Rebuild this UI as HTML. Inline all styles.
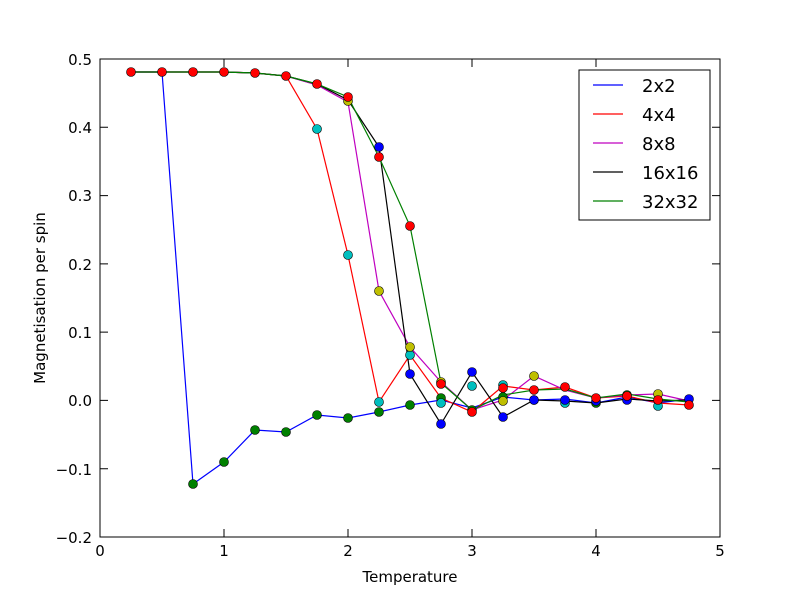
<!DOCTYPE html>
<html><head><meta charset="utf-8"><style>
html,body{margin:0;padding:0;background:#fff}
svg{display:block;font-family:"DejaVu Sans","Liberation Sans",sans-serif}
</style></head><body>
<svg width="800" height="597" viewBox="0 0 800 597">
<rect width="800" height="597" fill="#fff"/>
<g fill="none" stroke-width="1.2">
<polyline stroke="#00f" points="131,72 162,72 193,484 224,462 255,430 286,432 317,415 348,418 379,412 410,405 441,400 472,408 503,397 534,400 565,399 596,403 627,397 658,403 689,399"/>
<polyline stroke="#f00" points="131,72 162,72 193,72 224,72 255,73 286,76 317,129 348,255 379,402 410,355 441,398 472,412 503,386 534,390 565,387 596,398 627,396 658,403 689,405"/>
<polyline stroke="#bf00bf" points="131,72 162,72 193,72 224,72 255,73 286,76 317,85 348,102 379,291 410,347 441,382 472,410 503,400 534,376 565,390 596,398 627,395 658,394 689,401"/>
<polyline stroke="#000" points="131,72 162,72 193,72 224,72 255,73 286,76 317,84 348,100 379,147 410,374 441,424 472,372 503,417 534,400 565,401 596,403 627,399 658,401 689,400"/>
<polyline stroke="#008000" points="131,72 162,72 193,72 224,72 255,73 286,76 317,84 348,97 379,157 410,226 441,383 472,410 503,395 534,390 565,389 596,398 627,394 658,399 689,402"/>
</g>
<g stroke="#000" stroke-width="0.6">
<g fill="#008000">
<circle cx="193" cy="484" r="4.5"/><circle cx="224" cy="462" r="4.5"/><circle cx="255" cy="430" r="4.5"/><circle cx="286" cy="432" r="4.5"/><circle cx="317" cy="415" r="4.5"/><circle cx="348" cy="418" r="4.5"/><circle cx="379" cy="412" r="4.5"/><circle cx="410" cy="405" r="4.5"/><circle cx="441" cy="398" r="4.5"/><circle cx="503" cy="397" r="4.5"/><circle cx="534" cy="400" r="4.5"/><circle cx="596" cy="403" r="4.5"/><circle cx="627" cy="395" r="4.5"/><circle cx="472" cy="410" r="4.5"/>
</g>
<g fill="#00bfbf">
<circle cx="317" cy="129" r="4.5"/><circle cx="348" cy="255" r="4.5"/><circle cx="379" cy="402" r="4.5"/><circle cx="410" cy="355" r="4.5"/><circle cx="441" cy="403" r="4.5"/><circle cx="472" cy="386" r="4.5"/><circle cx="503" cy="385" r="4.5"/><circle cx="565" cy="403" r="4.5"/><circle cx="658" cy="406" r="4.5"/>
</g>
<g fill="#bfbf00">
<circle cx="348" cy="101" r="4.5"/><circle cx="379" cy="291" r="4.5"/><circle cx="410" cy="347" r="4.5"/><circle cx="441" cy="382" r="4.5"/><circle cx="503" cy="401" r="4.5"/><circle cx="534" cy="376" r="4.5"/><circle cx="658" cy="394" r="4.5"/>
</g>
<g fill="#00f">
<circle cx="379" cy="147" r="4.5"/><circle cx="410" cy="374" r="4.5"/><circle cx="441" cy="424" r="4.5"/><circle cx="472" cy="372" r="4.5"/><circle cx="503" cy="417" r="4.5"/><circle cx="534" cy="400" r="4.5"/><circle cx="565" cy="400" r="4.5"/><circle cx="596" cy="401" r="4.5"/><circle cx="627" cy="400" r="4.5"/><circle cx="689" cy="399" r="4.5"/>
</g>
<g fill="#f00">
<circle cx="131" cy="72" r="4.5"/><circle cx="162" cy="72" r="4.5"/><circle cx="193" cy="72" r="4.5"/><circle cx="224" cy="72" r="4.5"/><circle cx="255" cy="73" r="4.5"/><circle cx="286" cy="76" r="4.5"/><circle cx="317" cy="84" r="4.5"/><circle cx="348" cy="97" r="4.5"/><circle cx="379" cy="157" r="4.5"/><circle cx="410" cy="226" r="4.5"/><circle cx="441" cy="384" r="4.5"/><circle cx="472" cy="412" r="4.5"/><circle cx="503" cy="388" r="4.5"/><circle cx="534" cy="390" r="4.5"/><circle cx="565" cy="387" r="4.5"/><circle cx="596" cy="398" r="4.5"/><circle cx="627" cy="396" r="4.5"/><circle cx="658" cy="400" r="4.5"/><circle cx="689" cy="405" r="4.5"/>
</g>
</g>
<rect x="100" y="59" width="620" height="478" fill="none" stroke="#000" stroke-width="1"/>
<g stroke="#000" stroke-width="1">
<path d="M100,537v-8M224,537v-8M348,537v-8M472,537v-8M596,537v-8M720,537v-8M100,59v8M224,59v8M348,59v8M472,59v8M596,59v8M720,59v8"/>
<path d="M100,59h8M100,127.3h8M100,195.6h8M100,263.9h8M100,332.1h8M100,400.4h8M100,468.7h8M100,537h8M720,59h-8M720,127.3h-8M720,195.6h-8M720,263.9h-8M720,332.1h-8M720,400.4h-8M720,468.7h-8M720,537h-8"/>
</g>
<g font-size="15" fill="#000" text-anchor="middle">
<text x="100" y="556">0</text><text x="224" y="556">1</text><text x="348" y="556">2</text><text x="472" y="556">3</text><text x="596" y="556">4</text><text x="720" y="556">5</text>
</g>
<g font-size="15" fill="#000" text-anchor="end">
<text x="92" y="65">0.5</text><text x="92" y="133">0.4</text><text x="92" y="201">0.3</text><text x="92" y="270">0.2</text><text x="92" y="338">0.1</text><text x="92" y="406">0.0</text><text x="92" y="475">−0.1</text><text x="92" y="543">−0.2</text>
</g>
<text x="410" y="582" font-size="15" text-anchor="middle">Temperature</text>
<text transform="translate(45,298) rotate(-90)" font-size="15" text-anchor="middle">Magnetisation per spin</text>
<rect x="579" y="70" width="131" height="150" fill="#fff" stroke="#000" stroke-width="1"/>
<g stroke-width="1.2">
<path d="M593,85h30" stroke="#00f"/><path d="M593,114h30" stroke="#f00"/><path d="M593,143h30" stroke="#bf00bf"/><path d="M593,172h30" stroke="#000"/><path d="M593,201h30" stroke="#008000"/>
</g>
<g font-size="18" fill="#000">
<text x="642" y="92">2x2</text><text x="642" y="121">4x4</text><text x="642" y="150">8x8</text><text x="642" y="179">16x16</text><text x="642" y="208">32x32</text>
</g>
</svg>
</body></html>
